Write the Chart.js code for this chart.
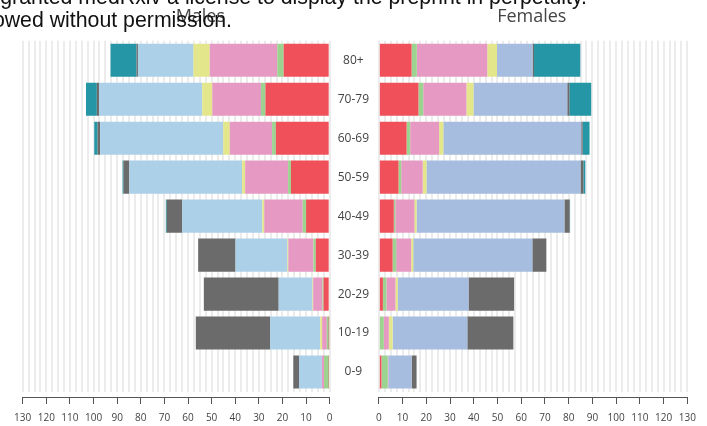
<!DOCTYPE html>
<html>
<head>
<meta charset="utf-8">
<script src="https://cdn.jsdelivr.net/npm/chart.js@4"></script>
<style>
  body { margin: 0; background: #fff; }
  #wrap { position: relative; width: 707px; height: 426px; overflow: hidden; }
  #males { position: absolute; left: 0; top: 0; }
  #females { position: absolute; left: 368px; top: 0; }
  .note {
    position: absolute; white-space: nowrap; color: #111;
    font-family: "Liberation Sans", Arial, sans-serif; font-size: 21.3px;
  }
</style>
</head>
<body>
<div id="wrap">
  <canvas id="males" width="378" height="432"></canvas>
  <canvas id="females" width="339" height="432"></canvas>
  <div class="note" style="right:120px; top:-15px;">granted medRxiv a license to display the preprint in perpetuity.</div>
  <div class="note" style="right:475px; top:8px;">owed without permission.</div>
</div>
<script>
// age groups, top to bottom
const ageGroups = ["80+", "70-79", "60-69", "50-59", "40-49", "30-39", "20-29", "10-19", "0-9"];

// segment names + colours, from the centre outward
const segNames = ["Segment 1", "Segment 2", "Segment 3", "Segment 4", "Segment 5", "Segment 6", "Segment 7"];
const segColors = ["#f0505a", "#9dd390", "#e69ac3", "#e3e68a", "#abd0e8", "#6b6b6b", "#2596a5"];
const femaleBlue = "#a6bde0";

// Males (per age group, same order as ageGroups)
const maleRed    = [19.5, 27.2, 22.8, 16.4, 10.0, 5.9, 2.6, 0.2, 0.3];
const maleGreen  = [2.7, 1.9, 1.6, 1.2, 1.4, 1.0, 0.5, 1.0, 2.1];
const malePink   = [28.6, 20.6, 17.9, 18.2, 16.3, 10.6, 3.9, 2.0, 0.9];
const maleYellow = [6.9, 4.3, 2.8, 1.3, 0.8, 0.4, 0.3, 0.8, 0];
const maleBlue   = [23.5, 43.7, 52.1, 47.8, 34.0, 22.0, 14.3, 21.2, 9.7];
const maleGray   = [0.6, 0.9, 1.1, 2.4, 6.5, 15.8, 31.7, 31.5, 2.4];
const maleTeal   = [11.0, 4.6, 1.4, 0.4, 0.4, 0, 0, 0, 0];

// Females
const femRed    = [13.8, 16.7, 11.7, 8.3, 6.3, 5.8, 1.7, 0, 1.1];
const femGreen  = [2.2, 2.0, 1.5, 1.1, 0.6, 1.5, 1.5, 2.1, 2.7];
const femPink   = [29.7, 18.2, 12.2, 9.1, 8.1, 6.3, 3.8, 2.1, 0.2];
const femYellow = [4.1, 3.0, 1.8, 1.6, 0.9, 0.9, 1.0, 1.6, 0];
const femBlue   = [15.0, 39.5, 58.1, 64.9, 62.3, 50.2, 29.8, 31.5, 9.8];
const femGray   = [0.6, 0.9, 0.6, 1.2, 2.2, 5.9, 19.2, 19.4, 2.1];
const femTeal   = [19.5, 9.2, 2.9, 0.8, 0.2, 0, 0, 0, 0];

const axisTicks = [0, 10, 20, 30, 40, 50, 60, 70, 80, 90, 100, 110, 120, 130];

const txt = "#444";
const uiFont = "'Open Sans', sans-serif";

function makeSets(series, blue) {
    return series.map((d, i) => ({
        label: segNames[i],
        data: d,
        backgroundColor: i === 4 ? blue : segColors[i],
        borderWidth: 0,
        barPercentage: 1,
        categoryPercentage: 0.85,
        xAxisID: "x",
    }));
}

function makeChart(id, title, sets, reverse, showAges, pad) {
    new Chart(document.getElementById(id), {
        type: "bar",
        data: { labels: ageGroups, datasets: sets },
        options: {
            indexAxis: "y",
            responsive: false,
            animation: false,
            layout: { padding: pad },
            plugins: {
                legend: { display: false },
                tooltip: { enabled: false },
                title: {
                    display: true,
                    text: title,
                    color: txt,
                    font: { family: uiFont, size: 18, weight: "normal" },
                    padding: { top: 6, bottom: 13.2 },
                },
            },
            scales: {
                // grid stripes (carries the bars)
                x: {
                    type: "linear",
                    position: "bottom",
                    min: 0,
                    max: 130,
                    reverse: reverse,
                    stacked: true,
                    border: { display: false },
                    grid: { color: "#ececec", lineWidth: 2, drawTicks: false },
                    ticks: { display: false, stepSize: 2.5 },
                    afterFit: (s) => { s.height = 5.5; },
                },
                // labelled axis underneath
                xl: {
                    type: "linear",
                    position: "bottom",
                    min: 0,
                    max: 130,
                    reverse: reverse,
                    border: { display: true, color: "#555", width: 1 },
                    grid: { drawOnChartArea: false, color: "#555", tickLength: 7 },
                    afterBuildTicks: (s) => { s.ticks = axisTicks.map((v) => ({ value: v })); },
                    ticks: {
                        color: txt,
                        padding: 8,
                        maxRotation: 0,
                        autoSkip: false,
                        font: { family: uiFont, size: 10 },
                    },
                },
                y: {
                    stacked: true,
                    position: "right",
                    display: showAges,
                    border: { display: false },
                    grid: { display: false },
                    ticks: {
                        color: txt,
                        crossAlign: "center",
                        padding: 0,
                        font: { family: uiFont, size: 12 },
                    },
                    afterFit: (s) => { s.width = showAges ? 48.3 : 0; },
                },
            },
        },
    });
}

makeChart("males", "Males",
    makeSets([maleRed, maleGreen, malePink, maleYellow, maleBlue, maleGray, maleTeal], segColors[4]),
    true, true, { left: 22.7, right: 0, top: 0, bottom: 0 });

makeChart("females", "Females",
    makeSets([femRed, femGreen, femPink, femYellow, femBlue, femGray, femTeal], femaleBlue),
    false, false, { left: 8.3, right: 19.7, top: 0, bottom: 0 });
</script>
</body>
</html>
